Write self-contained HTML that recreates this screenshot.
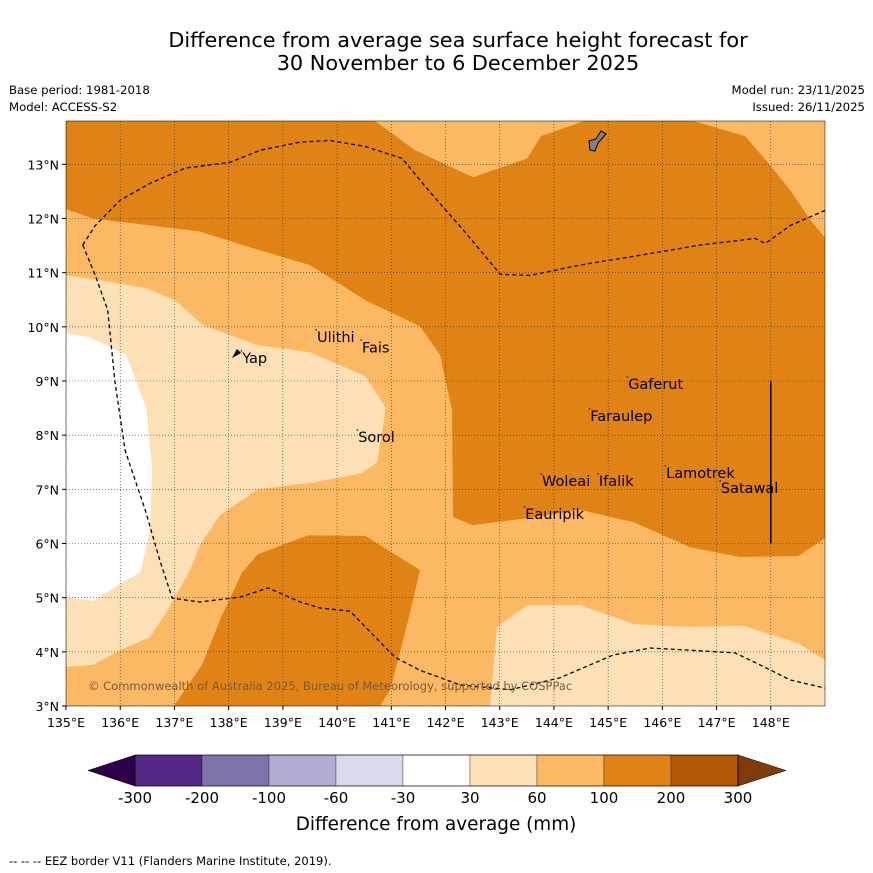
<!DOCTYPE html>
<html><head><meta charset="utf-8"><style>
body{margin:0;background:#fff;font-family:"DejaVu Sans","Liberation Sans",sans-serif}
svg{display:block}
</style></head><body>
<svg id="c" width="873" height="873" xmlns="http://www.w3.org/2000/svg">
<text x="458" y="47" font-size="20.8" text-anchor="middle">Difference from average sea surface height forecast for</text>
<text x="458" y="70" font-size="20.8" text-anchor="middle">30 November to 6 December 2025</text>
<text x="9" y="94" font-size="11.7">Base period: 1981-2018</text>
<text x="9" y="111" font-size="11.7">Model: ACCESS-S2</text>
<text x="865" y="94" font-size="11.7" text-anchor="end">Model run: 23/11/2025</text>
<text x="865" y="111" font-size="11.7" text-anchor="end">Issued: 26/11/2025</text>
<g id="plot"></g>
<g id="cb"></g>
<text x="436" y="830" font-size="18.4" text-anchor="middle">Difference from average (mm)</text>
<text x="9" y="865" font-size="11.5">--  --  -- EEZ border V11 (Flanders Marine Institute, 2019).</text>
</svg>
<script>
const lonTicks=[135,136,137,138,139,140,141,142,143,144,145,146,147,148];
const latTicks=[3,4,5,6,7,8,9,10,11,12,13];
const dark1=[[135,13.8],[140.70,13.8],[141.44,13.26],[142.51,12.76],[143.51,13.11],[143.76,13.52],[144.56,13.8],[146.57,13.8],[147.53,13.52],[147.99,12.98],[148.36,12.52],[148.73,11.97],[149,11.65],[149,6.10],[148.51,5.77],[147.44,5.75],[146.51,5.93],[145.48,6.39],[144.48,6.62],[143.38,6.45],[142.49,6.34],[142.14,6.49],[142.12,8.46],[141.90,9.48],[141.53,10.01],[140.52,10.49],[139.50,11.14],[138.39,11.47],[137.47,11.76],[135.50,12.00],[135,12.17]];
const dark2=[[136.99,3],[137.51,3.76],[137.88,4.68],[138.25,5.47],[138.54,5.80],[139.46,6.15],[140.52,6.14],[141.53,5.51],[141.29,4.49],[140.98,3.30],[140.79,3]];
const pale1=[[135,10.95],[135.63,10.86],[136.49,10.71],[137.01,10.49],[137.53,10.03],[138.54,9.66],[139.50,9.53],[140.52,9.09],[140.90,8.50],[140.74,7.50],[140.46,7.30],[139.59,7.13],[138.54,7.00],[137.84,6.52],[137.47,5.97],[137.29,5.51],[136.88,4.77],[136.55,4.27],[136.0,4.03],[135.50,3.76],[135,3.72]];
const white1=[[135,9.88],[135.44,9.81],[136.11,9.48],[136.48,8.50],[136.59,7.35],[136.55,6.25],[136.37,5.47],[135.96,5.23],[135.50,4.94],[135,5.01]];
const pale2=[[142.82,3],[142.95,4.46],[143.51,4.86],[144.48,4.86],[145.48,4.51],[146.51,4.46],[147.49,4.48],[148.51,4.16],[149,3.85],[149,3]];
const eezNorth=[[135.31,11.51],[135.54,11.87],[136.0,12.34],[136.55,12.65],[137.20,12.93],[138.03,13.04],[138.58,13.26],[139.32,13.41],[139.87,13.44],[140.52,13.33],[141.20,13.11],[141.72,12.48],[142.36,11.75],[143.01,10.97],[143.56,10.95],[144.48,11.14],[145.59,11.32],[146.70,11.51],[147.71,11.63],[147.90,11.54],[148.36,11.87],[149,12.15]];
const eezSouth=[[135.31,11.51],[135.54,10.95],[135.77,10.31],[135.90,9.01],[136.09,7.72],[136.46,6.62],[136.73,5.69],[136.96,4.99],[137.47,4.92],[138.21,5.01],[138.73,5.18],[139.32,4.92],[139.69,4.81],[140.24,4.75],[140.61,4.37],[141.07,3.90],[141.53,3.66],[142.27,3.39],[143.19,3.30],[144.11,3.52],[145.09,3.94],[145.77,4.07],[146.51,4.03],[147.34,3.98],[147.80,3.76],[148.36,3.48],[149,3.33]];
const placeNames=["Ulithi","Fais","Yap","Sorol","Gaferut","Faraulep","Woleai","Ifalik","Lamotrek","Satawal","Eauripik"];
const placeLon=[139.63,140.46,138.25,140.39,145.37,144.67,143.78,144.83,146.07,147.08,143.47];
const placeLat=[9.72,9.53,9.33,7.87,8.85,8.26,7.06,7.06,7.21,6.93,6.45];
const cbLevels=["-300","-200","-100","-60","-30","30","60","100","200","300"];
const cbColors=["#542788","#8073ac","#b2abd2","#d8daeb","#ffffff","#fee0b6","#fdb863","#e08214","#b35806"];

const NS="http://www.w3.org/2000/svg";
const X0=66,X1=825,Y0=121,Y1=706,LON0=135,LON1=149,LAT0=3,LAT1=13.8;
const sx=l=>X0+(l-LON0)/(LON1-LON0)*(X1-X0);
const sy=l=>Y1-(l-LAT0)/(LAT1-LAT0)*(Y1-Y0);
function mk(t,a,p){const e=document.createElementNS(NS,t);for(const k in a)e.setAttribute(k,a[k]);p.appendChild(e);return e;}
const plot=document.getElementById('plot');
const clip=mk('clipPath',{id:'pc'},plot);mk('rect',{x:X0,y:Y0,width:X1-X0,height:Y1-Y0},clip);
const g=mk('g',{'clip-path':'url(#pc)'},plot);
let bg=mk('rect',{x:X0,y:Y0,width:X1-X0,height:Y1-Y0,fill:'#fdb863'},g);


const pts=a=>a.map(p=>sx(p[0]).toFixed(1)+','+sy(p[1]).toFixed(1)).join(' ');
[[dark1,'#e08214','contour-100-200-north'],[dark2,'#e08214','contour-100-200-south'],[pale1,'#fee0b6','contour-30-60-west'],[white1,'#ffffff','contour-neutral-west'],[pale2,'#fee0b6','contour-30-60-south']].forEach(d=>{
  const e=mk('polygon',{points:pts(d[0]),fill:d[1]},g);
  
  
});
lonTicks.forEach(l=>{mk('line',{x1:sx(l),x2:sx(l),y1:Y0,y2:Y1,stroke:'#333','stroke-width':0.6,'stroke-dasharray':'1,2'},g);
  const t=mk('text',{x:sx(l),y:Y1+21,'font-size':12.5,'text-anchor':'middle'},plot);t.textContent=l+'°E';
  
  
  mk('line',{x1:sx(l),x2:sx(l),y1:Y1,y2:Y1+4,stroke:'#000'},plot);});
latTicks.forEach(l=>{mk('line',{x1:X0,x2:X1,y1:sy(l),y2:sy(l),stroke:'#333','stroke-width':0.6,'stroke-dasharray':'1,2'},g);
  const t=mk('text',{x:X0-7,y:sy(l)+5,'font-size':12.5,'text-anchor':'end'},plot);t.textContent=l+'°N';
  
  
  mk('line',{x1:X0-4,x2:X0,y1:sy(l),y2:sy(l),stroke:'#000'},plot);});
[eezNorth,eezSouth].forEach(a=>{const e=mk('polyline',{points:pts(a),fill:'none',stroke:'#000','stroke-width':1.3,'stroke-dasharray':'4,3'},g);
  
  });
let gu=mk('path',{d:'M589,141 L596,139 L601,131 L606,134 L598,143 L595,151 L590,150 Z',fill:'#808080',stroke:'#000','stroke-width':1},g);


let yp=mk('path',{d:'M232,358 L237,349 L241,353 Z',fill:'#000'},g);


let vl=mk('line',{x1:sx(148),x2:sx(148),y1:sy(9),y2:sy(6),stroke:'#000','stroke-width':1.5},g);


placeNames.forEach((n,i)=>{const t=mk('text',{x:sx(placeLon[i]),y:sy(placeLat[i]),'font-size':14.5},g);t.textContent=n;
  
  
  mk('rect',{x:sx(placeLon[i])-1.5,y:sy(placeLat[i])-13,width:1.5,height:1.5,fill:'#333'},g);});
let cr=mk('text',{x:88,y:690,'font-size':11.5,fill:'#7a5a3a'},g);cr.textContent='© Commonwealth of Australia 2025, Bureau of Meteorology, supported by COSPPac';


mk('rect',{x:X0,y:Y0,width:X1-X0,height:Y1-Y0,fill:'none',stroke:'#000','stroke-width':0.5},plot);
const cb=document.getElementById('cb');
const CB0=135,CBW=67,CY=755,CH=31;
let tl=mk('polygon',{points:`88,${CY+CH/2} ${CB0},${CY} ${CB0},${CY+CH}`,fill:'#2d004b',stroke:'#000','stroke-width':0.5},cb);


cbColors.forEach((c,i)=>{const r=mk('rect',{x:CB0+i*CBW,y:CY,width:CBW,height:CH,fill:c,stroke:'#000','stroke-width':0.3},cb);
  
  });
const CE=CB0+cbColors.length*CBW;
let tr=mk('polygon',{points:`${CE},${CY} 786,${CY+CH/2} ${CE},${CY+CH}`,fill:'#7f3b08',stroke:'#000','stroke-width':0.5},cb);


mk('rect',{x:CB0,y:CY,width:CE-CB0,height:CH,fill:'none',stroke:'#000','stroke-width':0.6},cb);
cbLevels.forEach((v,i)=>{const t=mk('text',{x:CB0+i*CBW,y:803,'font-size':15,'text-anchor':'middle'},cb);t.textContent=v;
  
  });
</script>
</body></html>
